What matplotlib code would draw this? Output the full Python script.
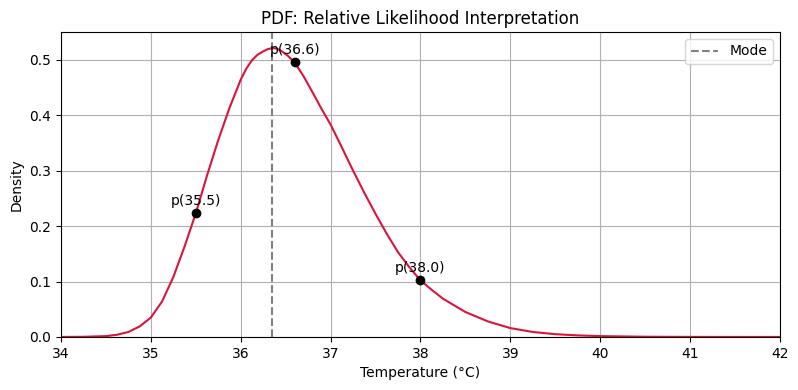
import matplotlib
matplotlib.use("Agg")
import matplotlib.pyplot as plt

# curve
temps = [34.0, 34.25, 34.5, 34.625, 34.75, 34.875, 35.0, 35.125, 35.25, 35.375, 35.5,
         35.625, 35.75, 35.875, 36.0, 36.0625, 36.125, 36.1875, 36.25, 36.3, 36.35,
         36.4, 36.45, 36.525, 36.6, 36.7, 36.8, 36.9, 37.0, 37.125, 37.25, 37.375,
         37.5, 37.625, 37.75, 37.875, 38.0, 38.125, 38.25, 38.5, 38.75, 39.0, 39.25,
         39.5, 39.75, 40.0, 40.5, 41.0, 42.0]
density = [0.0, 0.0003, 0.0015, 0.004, 0.009, 0.019, 0.035, 0.064, 0.108, 0.163, 0.223,
           0.291, 0.355, 0.413, 0.464, 0.484, 0.499, 0.509, 0.515, 0.519, 0.521,
           0.520, 0.516, 0.507, 0.495, 0.470, 0.441, 0.411, 0.383, 0.342, 0.300, 0.260,
           0.222, 0.186, 0.153, 0.126, 0.102, 0.085, 0.069, 0.045, 0.028, 0.016, 0.009,
           0.005, 0.0028, 0.0015, 0.0004, 0.0001, 0.0]

mode = 36.35
pts_x = [35.5, 36.6, 38.0]
pts_y = [0.223, 0.495, 0.102]

fig, ax = plt.subplots(figsize=(7.98, 3.9), dpi=100)
fig.subplots_adjust(left=0.0764, right=0.9774, top=0.918, bottom=0.136)
ax.plot(temps, density, color="crimson")
ax.axvline(mode, color="gray", linestyle="--", label="Mode")
for x, y in zip(pts_x, pts_y):
    ax.plot(x, y, "ko")
    ax.annotate("p({:.1f})".format(x), (x, y), textcoords="offset points",
                xytext=(0, 6), ha="center")

ax.set_xlim(34, 42)
ax.set_ylim(0, 0.55)
ax.set_title("PDF: Relative Likelihood Interpretation")
ax.set_xlabel("Temperature (°C)")
ax.set_ylabel("Density")
ax.grid(True)
ax.legend()
fig.savefig("out.png")
